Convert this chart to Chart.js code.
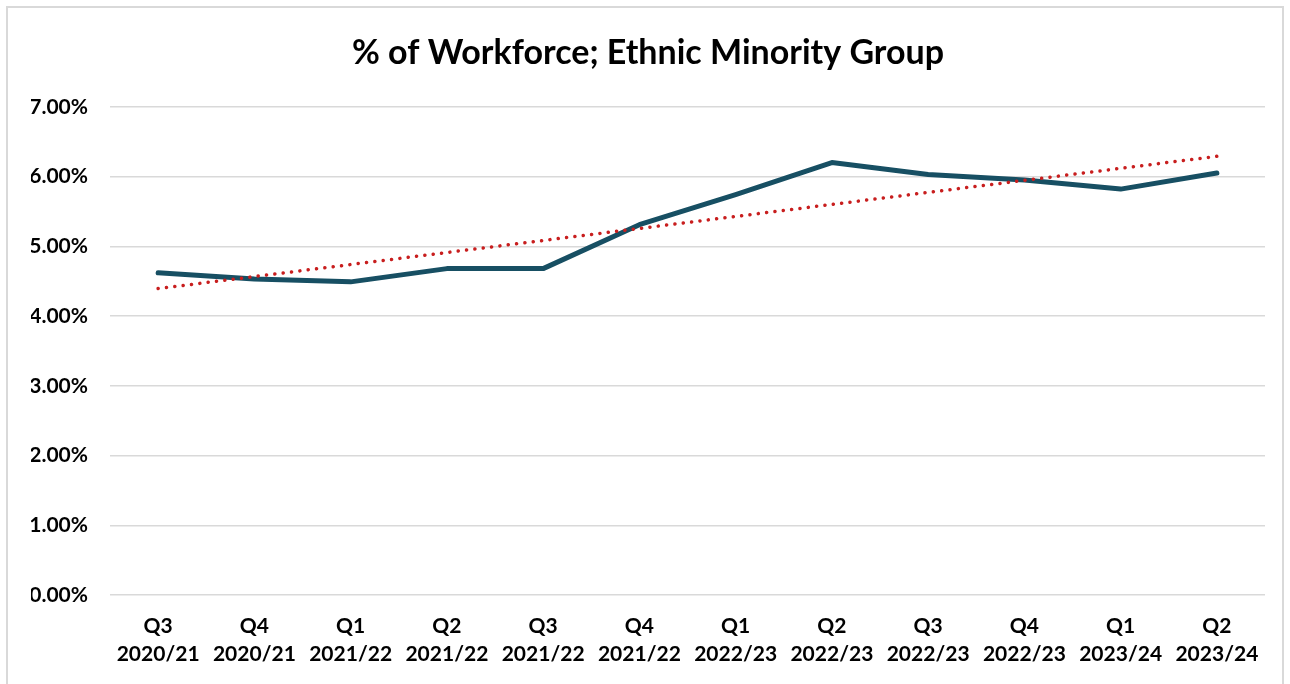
<!DOCTYPE html>
<html>
<head>
<meta charset="utf-8">
<script src="https://cdn.jsdelivr.net/npm/chart.js@4"></script>
<style>
  html, body { margin: 0; padding: 0; background: #ffffff; }
  #wrap { position: relative; width: 1290px; height: 684px; }
  #frame {
    position: absolute; left: 6px; top: 6px; width: 1278px; height: 690px;
    border: 2px solid #d9d9d9; box-sizing: border-box; pointer-events: none;
  }
  canvas { position: absolute; left: 0; top: 0; }
</style>
</head>
<body>
<div id="wrap">
  <canvas id="workforceChart" width="1290" height="684"></canvas>
  <div id="frame"></div>
</div>
<script>
// Quarter labels (two lines each)
const quarters = [
  ["Q3", "2020/21"], ["Q4", "2020/21"], ["Q1", "2021/22"], ["Q2", "2021/22"],
  ["Q3", "2021/22"], ["Q4", "2021/22"], ["Q1", "2022/23"], ["Q2", "2022/23"],
  ["Q3", "2022/23"], ["Q4", "2022/23"], ["Q1", "2023/24"], ["Q2", "2023/24"]
];

// Share of workforce from an ethnic minority group, in percent
const minorityShare = [4.62, 4.53, 4.49, 4.68, 4.68, 5.31, 5.74, 6.20, 6.03, 5.95, 5.82, 6.05];

const yTicks = [0, 1, 2, 3, 4, 5, 6, 7];

// Linear trendline (least squares) over the series
function linearTrend(values) {
  const n = values.length;
  const meanX = (n - 1) / 2;
  const meanY = values.reduce((s, v) => s + v, 0) / n;
  let sxy = 0, sxx = 0;
  values.forEach((v, i) => {
    sxy += (i - meanX) * (v - meanY);
    sxx += (i - meanX) * (i - meanX);
  });
  const slope = sxy / sxx;
  return values.map((_, i) => meanY + slope * (i - meanX));
}

const fontFamily = "Lato, 'Open Sans', sans-serif";

const ctx = document.getElementById("workforceChart").getContext("2d");
new Chart(ctx, {
  type: "line",
  data: {
    labels: quarters,
    datasets: [
      {
        label: "Ethnic Minority Group",
        data: minorityShare,
        borderColor: "#174f63",
        borderWidth: 5,
        borderCapStyle: "round",
        borderJoinStyle: "round",
        pointRadius: 0,
        tension: 0,
        order: 1,
      },
      {
        label: "Trend",
        data: linearTrend(minorityShare),
        borderColor: "#c81e1e",
        borderWidth: 3.5,
        borderDash: [0.1, 8.3],
        borderCapStyle: "round",
        pointRadius: 0,
        tension: 0,
        order: 0,
      },
    ],
  },
  options: {
    responsive: false,
    animation: false,
    layout: { padding: { left: 31, right: 25, top: 0, bottom: 0 } },
    plugins: {
      legend: { display: false },
      tooltip: { enabled: false },
      title: {
        display: true,
        text: "% of Workforce; Ethnic Minority Group",
        color: "#000000",
        font: { family: fontFamily, size: 34, weight: "bold", lineHeight: 1.2 },
        padding: { top: 33, bottom: 33 },
      },
    },
    scales: {
      x: {
        offset: true,
        grid: { display: false, drawTicks: false },
        border: { display: false },
        ticks: {
          color: "#000000",
          font: { family: fontFamily, size: 21, weight: "bold", lineHeight: 1.33 },
          padding: 17,
          maxRotation: 0,
          autoSkip: false,
        },
        afterFit: (scale) => { scale.height = 89; },
      },
      y: {
        min: 0,
        max: 7,
        afterBuildTicks: (scale) => { scale.ticks = yTicks.map((v) => ({ value: v })); },
        grid: { color: "#d9d9d9", lineWidth: 1.5, drawTicks: false },
        border: { display: false },
        ticks: {
          color: "#000000",
          font: { family: fontFamily, size: 21, weight: "bold" },
          padding: 22,
          callback: (v) => v.toFixed(2) + "%",
        },
        afterFit: (scale) => { scale.width = 79; },
      },
    },
  },
});
</script>
</body>
</html>
